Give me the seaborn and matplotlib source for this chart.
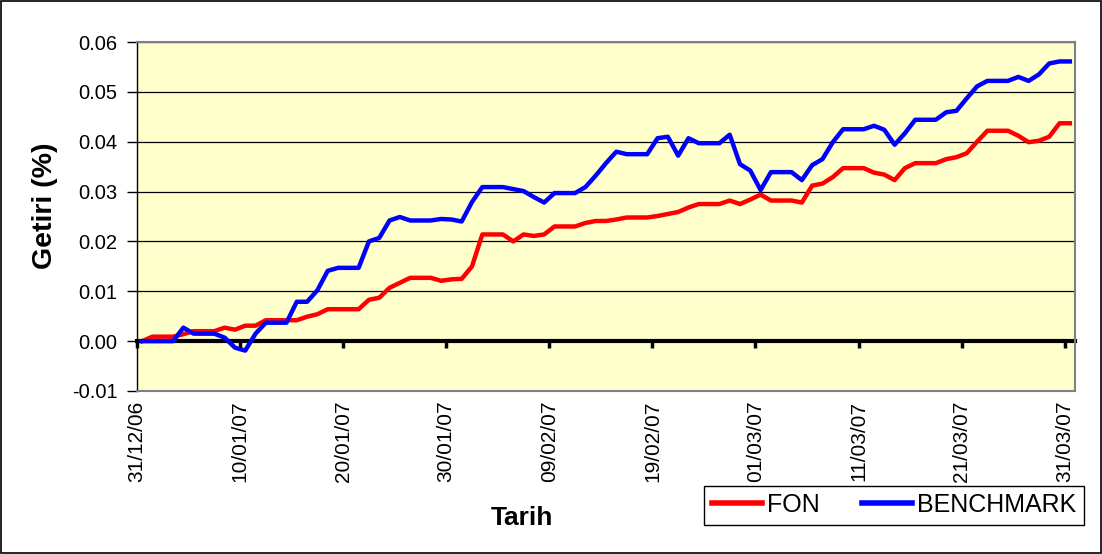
import numpy as np
import pandas as pd
import matplotlib
matplotlib.use('Agg')
import matplotlib.pyplot as plt
import seaborn as sns
from matplotlib.patches import Rectangle
from matplotlib.ticker import FormatStrFormatter

# Daily returns, 31/12/06 .. 31/03/07
fon = [0.0000, 0.0009, 0.0009, 0.0009, 0.0014, 0.0020, 0.0020, 0.0020, 0.0027, 0.0023,
       0.0031, 0.0031, 0.0042, 0.0042, 0.0042, 0.0042, 0.0049, 0.0054, 0.0064, 0.0064,
       0.0064, 0.0064, 0.0083, 0.0087, 0.0107, 0.0117, 0.0127, 0.0127, 0.0127, 0.0121,
       0.0124, 0.0125, 0.0150, 0.0214, 0.0214, 0.0214, 0.0200, 0.0214, 0.0211, 0.0214,
       0.0230, 0.0230, 0.0230, 0.0237, 0.0241, 0.0241, 0.0244, 0.0248, 0.0248, 0.0248,
       0.0251, 0.0255, 0.0259, 0.0268, 0.0275, 0.0275, 0.0275, 0.0282, 0.0275, 0.0284,
       0.0294, 0.0282, 0.0282, 0.0282, 0.0278, 0.0312, 0.0316, 0.0329, 0.0347, 0.0347,
       0.0347, 0.0338, 0.0334, 0.0323, 0.0347, 0.0357, 0.0357, 0.0357, 0.0365, 0.0369,
       0.0377, 0.0400, 0.0422, 0.0422, 0.0422, 0.0412, 0.0399, 0.0402, 0.0410, 0.0437,
       0.0437]
benchmark = [0.0000, 0.0000, 0.0000, 0.0000, 0.0027, 0.0015, 0.0015, 0.0015, 0.0007, -0.0013,
             -0.0019, 0.0015, 0.0037, 0.0037, 0.0037, 0.0079, 0.0079, 0.0102, 0.0141, 0.0147,
             0.0147, 0.0147, 0.0200, 0.0207, 0.0242, 0.0249, 0.0242, 0.0242, 0.0242, 0.0245,
             0.0244, 0.0240, 0.0279, 0.0309, 0.0309, 0.0309, 0.0305, 0.0301, 0.0289, 0.0278,
             0.0297, 0.0297, 0.0297, 0.0309, 0.0332, 0.0357, 0.0380, 0.0375, 0.0375, 0.0375,
             0.0407, 0.0410, 0.0372, 0.0407, 0.0397, 0.0397, 0.0397, 0.0414, 0.0355, 0.0342,
             0.0303, 0.0339, 0.0339, 0.0339, 0.0323, 0.0353, 0.0365, 0.0399, 0.0425, 0.0425,
             0.0425, 0.0432, 0.0424, 0.0394, 0.0417, 0.0444, 0.0444, 0.0444, 0.0459, 0.0462,
             0.0487, 0.0511, 0.0522, 0.0522, 0.0522, 0.0530, 0.0522, 0.0535, 0.0557, 0.0561,
             0.0561]
series_names = ['FON', 'BENCHMARK']
tick_labels = ['31/12/06', '10/01/07', '20/01/07', '30/01/07', '09/02/07',
               '19/02/07', '01/03/07', '11/03/07', '21/03/07', '31/03/07']
y_ticks = [-0.01, 0.00, 0.01, 0.02, 0.03, 0.04, 0.05, 0.06]

n = len(fon)
# each day sits in the middle of its slot (Excel date axis)
day_pos = np.arange(n) + 0.5
df = pd.DataFrame({
    'gun': np.concatenate([day_pos, day_pos]),
    'getiri': fon + benchmark,
    'seri': [series_names[0]] * n + [series_names[1]] * n,
})

plt.rcParams['font.family'] = ['Liberation Sans', 'DejaVu Sans']

fig = plt.figure(figsize=(11.02, 5.54), dpi=100)
ax = fig.add_axes([137 / 1102, 1 - 391 / 554, 938 / 1102, 349 / 554])
ax.set_facecolor('#FFFFCC')

sns.lineplot(data=df, x='gun', y='getiri', hue='seri', hue_order=series_names,
             palette={'FON': '#FF0000', 'BENCHMARK': '#0000FF'},
             linewidth=3.2, errorbar=None, ax=ax)

ax.set_xlim(0, n)
ax.set_ylim(-0.01, 0.06)
ax.set_yticks(y_ticks)
ax.yaxis.set_major_formatter(FormatStrFormatter('%.2f'))
ax.set_xticks(np.arange(0, n, 10), tick_labels)
ax.grid(axis='y', color='black', linewidth=0.9)
ax.grid(axis='x', visible=False)
ax.set_axisbelow(True)

ax.tick_params(axis='x', length=0, pad=7, labelsize=15, labelrotation=90)
ax.tick_params(axis='y', direction='out', length=7, width=1, color='black',
               pad=7, labelsize=14.5)
for side in ['top', 'right', 'bottom']:
    ax.spines[side].set_color('#808080')
    ax.spines[side].set_linewidth(1.5)
ax.spines['left'].set_color('black')
ax.spines['left'].set_linewidth(1)

# thick zero axis with its tick marks
zero_ax = ax.secondary_xaxis(1 / 7)
zero_ax.set_alignment('bottom')
zero_ax.set_xticks(np.arange(0, n, 10), [])
zero_ax.tick_params(axis='x', direction='out', length=5, width=2.5, color='black')
zero_ax.spines['bottom'].set_linewidth(3)
zero_ax.spines['bottom'].set_color('black')

ax.set_xlabel('Tarih', fontsize=19, fontweight='bold')
ax.xaxis.set_label_coords((522 - 137) / 938, (391 - 518) / 349)
ax.xaxis.label.set_va('center')
ax.set_ylabel('Getiri (%)', fontsize=20.5, fontweight='bold')
ax.yaxis.set_label_coords((45 - 137) / 938, (391 - 206) / 349)
ax.yaxis.label.set_va('center')

handles, labels = ax.get_legend_handles_labels()
ax.get_legend().remove()
fig.legend(handles, labels, loc='center', bbox_to_anchor=(894 / 1102, 1 - 505 / 554),
           bbox_transform=fig.transFigure, ncol=2, fontsize=18, frameon=True,
           fancybox=False, edgecolor='black', framealpha=1, handlelength=2.0,
           columnspacing=1.7, handletextpad=0.2, borderpad=0.3)
for line in fig.legends[0].get_lines():
    line.set_linewidth(4)
fig.legends[0].get_frame().set_linewidth(1)

fig.patches.append(Rectangle((0.001, 0.001), 0.998, 0.997, transform=fig.transFigure,
                             fill=False, edgecolor='black', linewidth=1.2))

fig.savefig('out.png', dpi=100)
